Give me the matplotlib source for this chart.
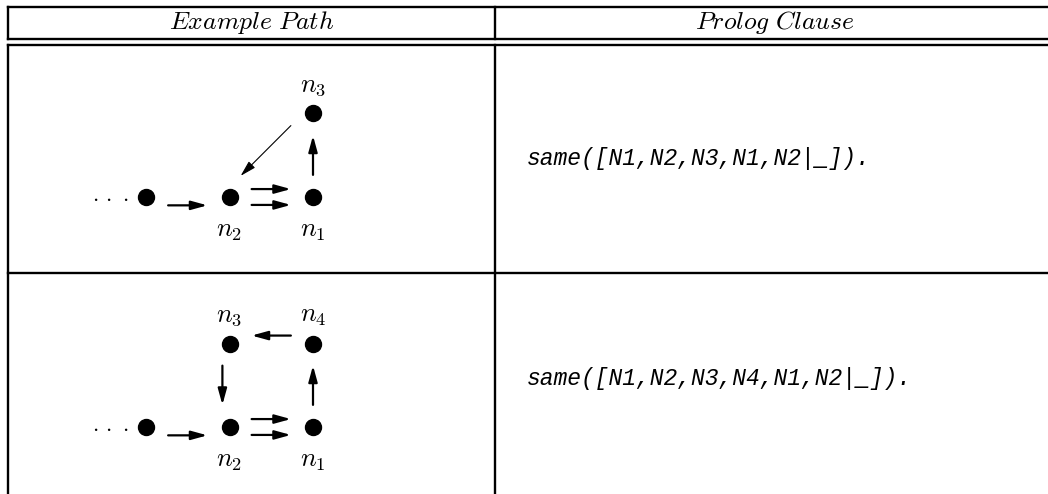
import matplotlib.pyplot as plt
from matplotlib.patches import FancyArrowPatch

plt.rcParams['mathtext.fontset'] = 'cm'

# table text
headers = ['Example Path', 'Prolog Clause']
clauses = ['same([N1,N2,N3,N1,N2|_]).', 'same([N1,N2,N3,N4,N1,N2|_]).']

# graph of each example path (grid units)
nodes1 = {'start': (0, 0), 'n2': (1, 0), 'n1': (2, 0), 'n3': (2, 1)}
edges1 = [('start', 'n2'), ('n2', 'n1'), ('n2', 'n1'), ('n1', 'n3'), ('n3', 'n2')]
nodes2 = {'start': (0, 0), 'n2': (1, 0), 'n1': (2, 0), 'n4': (2, 1), 'n3': (1, 1)}
edges2 = [('start', 'n2'), ('n2', 'n1'), ('n2', 'n1'), ('n1', 'n4'), ('n4', 'n3'), ('n3', 'n2')]

# arrow styling: offset from node-to-node line, start/end fraction, width
offs1 = [(0, -0.1), (0, 0.095), (0, -0.095), (0, 0), (0.0, 0.12)]
fracs1 = [(0.265, 0.735)] * 4 + [(0.265, 0.867)]
lws1 = [1.6, 1.6, 1.6, 1.6, 0.8]
offs2 = [(0, -0.1), (0, 0.095), (0, -0.095), (0, 0), (0, 0.095), (-0.085, 0)]
fracs2 = [(0.265, 0.735)] * 6
lws2 = [1.6] * 6

W, H = 1048, 494
fig = plt.figure(figsize=(W / 100, H / 100), dpi=100)
ax = fig.add_axes([0, 0, 1, 1])
ax.set_xlim(0, W)
ax.set_ylim(H, 0)
ax.axis('off')

# table rules
lw = 1.7
xl, xm, xr = 8, 495, 1060
for y in (7, 39, 45, 273):
    ax.plot([xl, xr], [y, y], color='black', lw=lw)
for x in (xl, xm):
    ax.plot([x, x], [7, 39], color='black', lw=lw)
    ax.plot([x, x], [45, H + 5], color='black', lw=lw)

ax.text((xl + xm) / 2, 22, r'$\mathit{Example\ Path}$', ha='center', va='center', fontsize=18.5)
ax.text((xm + 1055) / 2, 22, r'$\mathit{Prolog\ Clause}$', ha='center', va='center', fontsize=18.5)

for y, cl in zip([158, 378], clauses):
    ax.text(527, y, cl, ha='left', va='center', fontsize=16.6,
            family='Liberation Mono', style='italic')


def diagram(ox, oy, nodes, edges, offs, fracs, lws, labels_above, labels_below, unit=83.5):
    left, right, top, bottom = ox - 90, ox + 250, oy - 140, oy + 60
    d = fig.add_axes([left / W, 1 - bottom / H, (right - left) / W, (bottom - top) / H])
    d.set_xlim((left - ox) / unit, (right - ox) / unit)
    d.set_ylim((oy - bottom) / unit, (oy - top) / unit)
    d.axis('off')
    xs = [p[0] for p in nodes.values()]
    ys = [p[1] for p in nodes.values()]
    d.plot(xs, ys, 'o', color='black', markersize=11.5)
    for (a, b), (dx, dy), (f0, f1), w in zip(edges, offs, fracs, lws):
        x0, y0 = nodes[a]
        x1, y1 = nodes[b]
        p0 = (x0 + (x1 - x0) * f0 + dx, y0 + (y1 - y0) * f0 + dy)
        p1 = (x0 + (x1 - x0) * f1 + dx, y0 + (y1 - y0) * f1 + dy)
        arr = FancyArrowPatch(p0, p1, arrowstyle='-|>,head_length=0.8,head_width=0.22',
                              mutation_scale=12, lw=w, color='black', shrinkA=0, shrinkB=0)
        d.add_patch(arr)
    sx, sy = nodes['start']
    d.text(sx - 0.42, sy, r'$\cdot\,\cdot\,\cdot$', ha='center', va='center', fontsize=16)
    for name in labels_above:
        x, y = nodes[name]
        d.text(x, y + 0.34, '$n_%s$' % name[1], ha='center', va='center', fontsize=19)
    for name in labels_below:
        x, y = nodes[name]
        d.text(x, y - 0.40, '$n_%s$' % name[1], ha='center', va='center', fontsize=19)


diagram(146, 197, nodes1, edges1, offs1, fracs1, lws1, ['n3'], ['n2', 'n1'])
diagram(146, 427, nodes2, edges2, offs2, fracs2, lws2, ['n3', 'n4'], ['n2', 'n1'])

fig.savefig('out.png', dpi=100)
